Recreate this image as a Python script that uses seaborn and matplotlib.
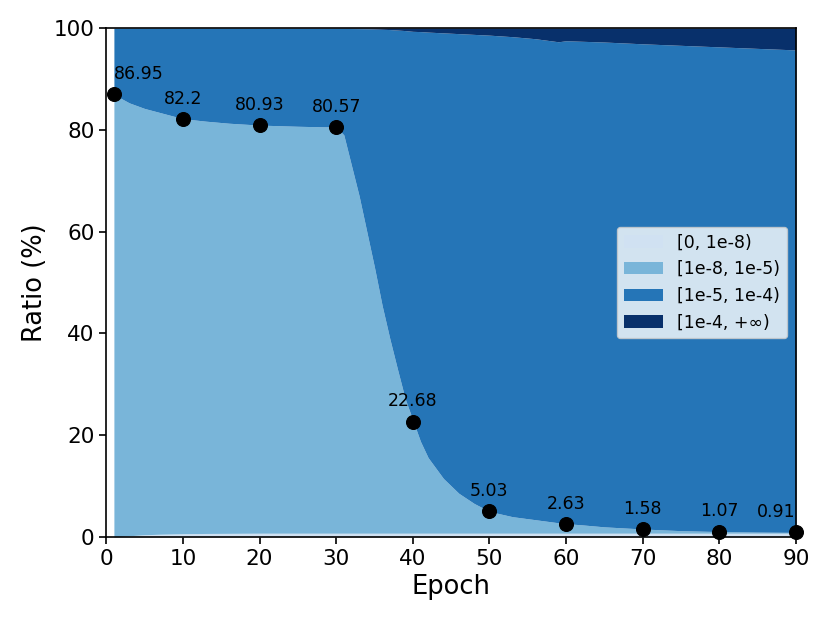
import numpy as np
import pandas as pd
import matplotlib
matplotlib.use("Agg")
import matplotlib.pyplot as plt
import seaborn as sns

epochs = [1, 3, 5, 7, 10, 13, 16, 20, 25, 28, 30, 31, 32, 33, 34, 35, 36, 37, 38, 39,
          40, 41, 42, 44, 46, 48, 50, 53, 56, 59, 60, 62, 65, 70, 75, 80, 85, 90]

# cumulative share below 1e-8 (bottom band)
below_1e8 = [0.0, 0.25, 0.45, 0.55, 0.65, 0.7, 0.72, 0.75, 0.75, 0.75, 0.75, 0.75, 0.75, 0.75,
             0.75, 0.75, 0.75, 0.75, 0.75, 0.75, 0.75, 0.75, 0.75, 0.75, 0.75, 0.75, 0.75, 0.75,
             0.75, 0.75, 0.75, 0.75, 0.75, 0.75, 0.75, 0.75, 0.75, 0.75]
# cumulative share below 1e-5
below_1e5 = [86.95, 85.3, 84.2, 83.4, 82.2, 81.7, 81.3, 80.93, 80.7, 80.6, 80.57, 79.0, 73.0,
             67.0, 60.0, 53.0, 45.5, 39.0, 33.0, 27.2, 23.0, 18.8, 15.6, 11.5, 8.6, 6.6, 5.03,
             4.0, 3.4, 2.8, 2.63, 2.4, 2.0, 1.58, 1.25, 1.07, 0.97, 0.91]
# cumulative share below 1e-4
below_1e4 = [100.0, 100.0, 100.0, 100.0, 100.0, 100.0, 100.0, 99.98, 99.95, 99.95, 99.93, 99.92,
             99.9, 99.88, 99.85, 99.8, 99.75, 99.7, 99.6, 99.5, 99.35, 99.3, 99.2, 99.05, 98.9,
             98.75, 98.6, 98.3, 97.9, 97.3, 97.5, 97.4, 97.25, 96.9, 96.6, 96.3, 96.0, 95.7]

# marked ratios (%) of the [0, 1e-5) part
mark_epochs = [1, 10, 20, 30, 40, 50, 60, 70, 80, 90]
mark_values = [86.95, 82.2, 80.93, 80.57, 22.68, 5.03, 2.63, 1.58, 1.07, 0.91]

labels = ["[0, 1e-8)", "[1e-8, 1e-5)", "[1e-5, 1e-4)", "[1e-4, +\u221e)"]

df = pd.DataFrame({"epoch": epochs, "b8": below_1e8, "b5": below_1e5, "b4": below_1e4})
layers = [df["b8"],
          df["b5"] - df["b8"],
          df["b4"] - df["b5"],
          100 - df["b4"]]

sns.set_style("ticks", rc={"axes.edgecolor": "black", "text.color": "black",
                           "axes.labelcolor": "black", "xtick.color": "black",
                           "ytick.color": "black"})
plt.rcParams["font.family"] = ["DejaVu Sans"]
colors = plt.cm.Blues(np.linspace(0.2, 1.0, 4))

fig, ax = plt.subplots(figsize=(8.3, 6.23), dpi=100)
fig.subplots_adjust(left=0.128, right=0.959, top=0.955, bottom=0.138)

ax.stackplot(df["epoch"], *layers, labels=labels, colors=colors, linewidth=0)

marks = pd.DataFrame({"epoch": mark_epochs, "ratio": mark_values})
sns.scatterplot(data=marks, x="epoch", y="ratio", color="black", s=100,
                edgecolor=None, ax=ax, zorder=5, clip_on=False)
n = len(mark_epochs)
for i, (e, v) in enumerate(zip(mark_epochs, mark_values)):
    ha = "left" if i == 0 else ("right" if i == n - 1 else "center")
    ax.annotate(str(v), (e, v), xytext=(0, 8), textcoords="offset points",
                ha=ha, va="bottom", fontsize=12.5, annotation_clip=True, clip_on=True)

ax.set_xlim(0, 90)
ax.set_ylim(0, 100)
ax.set_xticks(range(0, 91, 10))
ax.set_yticks(range(0, 101, 20))
ax.tick_params(labelsize=15.5, width=1.2, length=5)
for s in ax.spines.values():
    s.set_linewidth(1.2)
ax.set_xlabel("Epoch", fontsize=18.5)
ax.set_ylabel("Ratio (%)", fontsize=18.5)
ax.legend(loc="center right", fontsize=12.5, handlelength=2.3)

fig.savefig("out.png", dpi=100)
